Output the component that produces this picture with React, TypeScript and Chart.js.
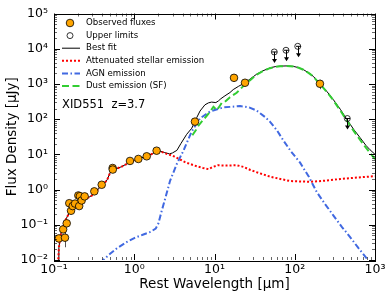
import React, { useEffect, useRef } from "react";
import { Chart, registerables } from "chart.js";

Chart.register(...registerables);

const W = 392;
const H = 301;
const FONT = '"DejaVu Sans", "Liberation Sans", sans-serif';

// ---- tick labels ----
const xTickValues = [0.1, 1, 10, 100, 1000];
const xTickLabels = ["10⁻¹", "10⁰", "10¹", "10²", "10³"];
const yTickValues = [0.01, 0.1, 1, 10, 100, 1000, 10000, 100000];
const yTickLabels = ["10⁻²", "10⁻¹", "10⁰", "10¹", "10²", "10³", "10⁴", "10⁵"];

// ---- observed fluxes ----
const obsX = [0.115, 0.137, 0.130, 0.144, 0.163, 0.155, 0.171, 0.183, 0.206, 0.201, 0.21, 0.221, 0.241, 0.318, 0.393, 0.538, 0.54, 0.885, 1.125, 1.43, 1.9, 5.71, 17.5, 24, 206];
const obsY = [0.041, 0.043, 0.074, 0.11, 0.25, 0.41, 0.34, 0.40, 0.34, 0.68, 0.65, 0.49, 0.64, 0.89, 1.37, 4.1, 3.7, 6.5, 7.4, 8.8, 12.7, 85, 1490, 1080, 1010];
const obsErr = [0.008, 0.02, 0.008, 0.01, 0.02, 0.03, 0.03, 0.03, 0.03, 0.05, 0.05, 0.04, 0.05, 0.06, 0.1, 0.3, 0.3, 0.4, 0.4, 0.5, 0.7, 5, 300, 100, 300];

// ---- upper limits ----
const ulX = [55.6, 77.8, 109, 452];
const ulY = [8090, 9040, 11700, 104];

// ---- best fit ----
const fitX = [0.111, 0.113, 0.115, 0.118, 0.122, 0.127, 0.133, 0.14, 0.15, 0.16, 0.175, 0.2, 0.23, 0.27, 0.32, 0.37, 0.42, 0.46, 0.5, 0.54, 0.6, 0.7, 0.85, 1.0, 1.2, 1.45, 1.7, 1.9, 2.1, 2.4, 2.75, 3.0, 3.4, 3.8, 4.5, 5.2, 5.7, 6.0, 6.6, 7.6, 8.4, 9.2, 10.4, 11.2, 12, 13.5, 15.6, 17.1, 20, 24, 28, 33.6, 40, 49, 57, 65.5, 80, 96, 112, 128, 150, 170, 206, 250, 302, 370, 444, 540, 650, 770, 867, 1000];
const fitY = [0.001, 0.01, 0.022, 0.035, 0.055, 0.08, 0.11, 0.14, 0.19, 0.24, 0.32, 0.42, 0.5, 0.6, 0.75, 1.15, 1.45, 1.9, 3.0, 3.6, 3.9, 4.5, 5.7, 6.7, 7.8, 9.0, 10.5, 12.5, 12.3, 11.2, 10.3, 11.0, 13, 20, 37, 55, 85, 110, 170, 255, 290, 305, 295, 330, 380, 460, 570, 690, 860, 1080, 1400, 1900, 2350, 2850, 3100, 3200, 3250, 3150, 2900, 2550, 2050, 1650, 1010, 620, 360, 190, 100, 52, 30, 18, 13.5, 10];

// ---- attenuated stellar emission ----
const starX = [0.111, 0.113, 0.115, 0.118, 0.122, 0.127, 0.133, 0.14, 0.15, 0.16, 0.175, 0.2, 0.23, 0.27, 0.32, 0.37, 0.42, 0.46, 0.5, 0.54, 0.6, 0.7, 0.85, 1.0, 1.2, 1.45, 1.7, 1.9, 2.1, 2.4, 2.8, 3.2, 3.7, 4.3, 5.0, 6.0, 7.2, 8.4, 9.5, 11, 14, 19, 23, 28, 35, 50, 87, 155, 250, 370, 600, 1000];
const starY = [0.001, 0.01, 0.022, 0.035, 0.055, 0.08, 0.11, 0.14, 0.19, 0.24, 0.32, 0.42, 0.5, 0.6, 0.75, 1.15, 1.45, 1.9, 3.0, 3.6, 3.9, 4.5, 5.7, 6.7, 7.8, 9.0, 10.5, 12.5, 12.2, 10.8, 9.6, 8.6, 7.2, 6.0, 5.3, 4.6, 4.1, 3.8, 4.4, 4.9, 4.8, 4.9, 4.4, 3.6, 3.0, 2.3, 1.75, 1.66, 1.8, 2.0, 2.2, 2.4];

// ---- AGN emission ----
const agnX = [0.38, 0.4, 0.5, 0.6, 0.8, 1.0, 1.3, 1.6, 1.85, 2.0, 2.2, 2.4, 2.8, 3.4, 4.1, 5.2, 6.6, 8.8, 12.9, 20.8, 27, 33.6, 42.6, 49, 60, 72, 90, 116, 150, 188, 240, 302, 390, 487, 620, 787, 900];
const agnY = [0.008, 0.0095, 0.015, 0.021, 0.032, 0.042, 0.053, 0.063, 0.078, 0.11, 0.25, 0.5, 1.8, 5.4, 12.7, 45, 105, 165, 215, 235, 215, 175, 115, 85, 48, 25, 12, 5.9, 2.3, 0.85, 0.38, 0.186, 0.085, 0.0455, 0.022, 0.0112, 0.0075];

// ---- dust emission (SF) ----
const dustX = [5.3, 5.9, 6.3, 7.0, 8.0, 9.0, 9.7, 10.2, 10.7, 11.3, 12.3, 13.5, 15.6, 18.9, 24, 28, 33.6, 40, 49, 57, 65.5, 80, 96, 112, 128, 150, 170, 206, 250, 302, 370, 444, 540, 650, 770, 867, 1000];
const dustY = [35, 50, 65, 88, 124, 175, 225, 200, 180, 215, 290, 310, 420, 560, 970, 1300, 1850, 2300, 2800, 3080, 3180, 3230, 3130, 2880, 2530, 2030, 1630, 990, 600, 345, 175, 92, 47, 26, 15.5, 11, 7.3];

const legendLabels = ["Observed fluxes", "Upper limits", "Best fit", "Attenuated stellar emission", "AGN emission", "Dust emission (SF)"];
const annotation = "XID551  z=3.7";

const ORANGE = "#ffa500";
const RED = "#ff0000";
const BLUE = "#4169e1";
const GREEN = "#32cd32";

const pts = (xs: number[], ys: number[]) => xs.map((x, i) => ({ x, y: ys[i] }));

function tickLabel(values: number[], labels: string[], v: number) {
  for (let i = 0; i < values.length; i++) {
    if (Math.abs(Math.log10(values[i]) - Math.log10(v)) < 1e-6) return labels[i];
  }
  return "";
}

const errorBarPlugin = {
  id: "errorBars",
  beforeDatasetsDraw(chart: any) {
    const { ctx, scales, chartArea } = chart;
    ctx.save();
    ctx.beginPath();
    ctx.rect(chartArea.left, chartArea.top, chartArea.right - chartArea.left, chartArea.bottom - chartArea.top);
    ctx.clip();
    ctx.strokeStyle = "#555";
    ctx.lineWidth = 1;
    for (let i = 0; i < obsX.length; i++) {
      const px = Math.round(scales.x.getPixelForValue(obsX[i])) + 0.5;
      const lo = Math.max(obsY[i] - obsErr[i], 1e-4);
      const y1 = scales.y.getPixelForValue(lo);
      const y2 = scales.y.getPixelForValue(obsY[i] + obsErr[i]);
      ctx.beginPath();
      ctx.moveTo(px, y1);
      ctx.lineTo(px, y2);
      ctx.stroke();
    }
    ctx.restore();
  },
};

const decorPlugin = {
  id: "decor",
  afterDatasetsDraw(chart: any) {
    const { ctx, scales } = chart;
    // upper limit arrows
    ctx.save();
    ctx.strokeStyle = "#000";
    ctx.fillStyle = "#000";
    ctx.lineWidth = 1;
    for (let i = 0; i < ulX.length; i++) {
      const px = Math.round(scales.x.getPixelForValue(ulX[i])) + 0.5;
      const py = scales.y.getPixelForValue(ulY[i]);
      ctx.beginPath();
      ctx.moveTo(px - 2.5, py);
      ctx.lineTo(px + 2.5, py);
      ctx.moveTo(px, py);
      ctx.lineTo(px, py + 8);
      ctx.stroke();
      ctx.beginPath();
      ctx.moveTo(px - 2.5, py + 7);
      ctx.lineTo(px + 2.5, py + 7);
      ctx.lineTo(px, py + 11);
      ctx.closePath();
      ctx.fill();
    }
    ctx.restore();
  },
  afterDraw(chart: any) {
    const { ctx, scales, chartArea } = chart;
    const { left, right, top, bottom } = chartArea;
    ctx.save();
    // frame
    ctx.strokeStyle = "#000";
    ctx.lineWidth = 1;
    ctx.strokeRect(Math.round(left) + 0.5, Math.round(top) + 0.5, Math.round(right - left), Math.round(bottom - top));
    // ticks (inward, all sides)
    const drawX = (v: number, len: number) => {
      const px = Math.round(scales.x.getPixelForValue(v)) + 0.5;
      ctx.beginPath();
      ctx.moveTo(px, bottom);
      ctx.lineTo(px, bottom - len);
      ctx.moveTo(px, top);
      ctx.lineTo(px, top + len);
      ctx.stroke();
    };
    const drawY = (v: number, len: number) => {
      const py = Math.round(scales.y.getPixelForValue(v)) + 0.5;
      ctx.beginPath();
      ctx.moveTo(left, py);
      ctx.lineTo(left + len, py);
      ctx.moveTo(right, py);
      ctx.lineTo(right - len, py);
      ctx.stroke();
    };
    ctx.lineWidth = 0.6;
    for (let d = -1; d < 3; d++) for (let m = 2; m < 10; m++) drawX(m * Math.pow(10, d), 3);
    for (let d = -2; d < 5; d++) for (let m = 2; m < 10; m++) drawY(m * Math.pow(10, d), 3);
    ctx.lineWidth = 1;
    xTickValues.forEach((v) => drawX(v, 6));
    yTickValues.forEach((v) => drawY(v, 6));

    // legend
    const rows = [23, 35.6, 48.2, 60.8, 73.4, 86];
    const x0 = 62, x1 = 80, xm = 70, xt = 86;
    ctx.font = `8.6px ${FONT}`;
    ctx.textBaseline = "middle";
    ctx.textAlign = "left";
    // observed
    ctx.beginPath();
    ctx.arc(xm, rows[0], 3.8, 0, Math.PI * 2);
    ctx.fillStyle = ORANGE;
    ctx.fill();
    ctx.strokeStyle = "#000";
    ctx.lineWidth = 0.8;
    ctx.stroke();
    // upper limits
    ctx.beginPath();
    ctx.arc(xm, rows[1], 3, 0, Math.PI * 2);
    ctx.strokeStyle = "#000";
    ctx.lineWidth = 0.8;
    ctx.stroke();
    const lineSample = (row: number, color: string, width: number, dash: number[]) => {
      ctx.beginPath();
      ctx.setLineDash(dash);
      ctx.strokeStyle = color;
      ctx.lineWidth = width;
      ctx.moveTo(x0, rows[row]);
      ctx.lineTo(x1, rows[row]);
      ctx.stroke();
      ctx.setLineDash([]);
    };
    lineSample(2, "#000", 1, []);
    lineSample(3, RED, 2, [2, 2]);
    lineSample(4, BLUE, 2, [6, 2.5, 1.5, 2.5]);
    lineSample(5, GREEN, 2, [7, 3.5]);
    ctx.fillStyle = "#000";
    legendLabels.forEach((t, i) => ctx.fillText(t, xt, rows[i]));

    // annotation
    ctx.font = `11.5px ${FONT}`;
    ctx.textBaseline = "alphabetic";
    ctx.fillText(annotation, 62, 108);
    ctx.restore();
  },
};

export default function App() {
  const ref = useRef<HTMLCanvasElement>(null);
  useEffect(() => {
    if (!ref.current) return;
    const chart = new Chart(ref.current, {
      type: "scatter",
      data: {
        datasets: [
          {
            label: legendLabels[0],
            data: pts(obsX, obsY),
            showLine: false,
            pointRadius: 3.8,
            pointBackgroundColor: ORANGE,
            pointBorderColor: "#000",
            pointBorderWidth: 0.8,
            clip: 5,
          } as any,
          {
            label: legendLabels[1],
            data: pts(ulX, ulY),
            showLine: false,
            pointRadius: 3,
            pointBackgroundColor: "rgba(0,0,0,0)",
            pointBorderColor: "#000",
            pointBorderWidth: 0.8,
            clip: 5,
          },
          {
            label: legendLabels[5],
            data: pts(dustX, dustY),
            showLine: true,
            borderColor: GREEN,
            borderWidth: 2,
            borderDash: [7, 3.5],
            pointRadius: 0,
            clip: 0,
          },
          {
            label: legendLabels[4],
            data: pts(agnX, agnY),
            showLine: true,
            borderColor: BLUE,
            borderWidth: 2,
            borderDash: [6, 2.5, 1.5, 2.5],
            pointRadius: 0,
            clip: 0,
          },
          {
            label: legendLabels[3],
            data: pts(starX, starY),
            showLine: true,
            borderColor: RED,
            borderWidth: 2,
            borderDash: [2, 2],
            pointRadius: 0,
            clip: 0,
          },
          {
            label: legendLabels[2],
            data: pts(fitX, fitY),
            showLine: true,
            borderColor: "#000",
            borderWidth: 1,
            pointRadius: 0,
            clip: 0,
          },
        ],
      },
      options: {
        responsive: false,
        devicePixelRatio: 1,
        animation: false,
        events: [],
        layout: { padding: { top: 12, right: 17, left: 0, bottom: 0 } },
        plugins: { legend: { display: false }, tooltip: { enabled: false } },
        scales: {
          x: {
            type: "logarithmic",
            min: 0.1,
            max: 1000,
            position: "bottom",
            grid: { display: false, drawTicks: false },
            border: { display: false },
            afterBuildTicks: (s: any) => {
              s.ticks = xTickValues.map((v) => ({ value: v }));
            },
            afterFit: (s: any) => {
              s.height = H - 260;
            },
            ticks: {
              autoSkip: false,
              maxRotation: 0,
              minRotation: 0,
              padding: 2,
              color: "#000",
              font: { family: FONT, size: 12.5 },
              callback: (v: any) => tickLabel(xTickValues, xTickLabels, Number(v)),
            },
            title: {
              display: true,
              text: "Rest Wavelength [μm]",
              color: "#000",
              font: { family: FONT, size: 13.5 },
              padding: { top: 0, bottom: 8 },
            },
          },
          y: {
            type: "logarithmic",
            min: 0.01,
            max: 100000,
            position: "left",
            grid: { display: false, drawTicks: false },
            border: { display: false },
            afterBuildTicks: (s: any) => {
              s.ticks = yTickValues.map((v) => ({ value: v }));
            },
            afterFit: (s: any) => {
              s.width = 54;
            },
            ticks: {
              autoSkip: false,
              padding: 6,
              color: "#000",
              font: { family: FONT, size: 12.5 },
              callback: (v: any) => tickLabel(yTickValues, yTickLabels, Number(v)),
            },
            title: {
              display: true,
              text: "Flux Density [μJy]",
              color: "#000",
              font: { family: FONT, size: 13.5 },
              padding: { top: 4, bottom: 0 },
            },
          },
        },
      },
      plugins: [errorBarPlugin, decorPlugin],
    } as any);
    return () => chart.destroy();
  }, []);
  return (
    <div style={{ position: "absolute", left: 0, top: 0, width: W, height: H }}>
      <canvas ref={ref} width={W} height={H} style={{ width: W, height: H, display: "block" }} />
    </div>
  );
}
